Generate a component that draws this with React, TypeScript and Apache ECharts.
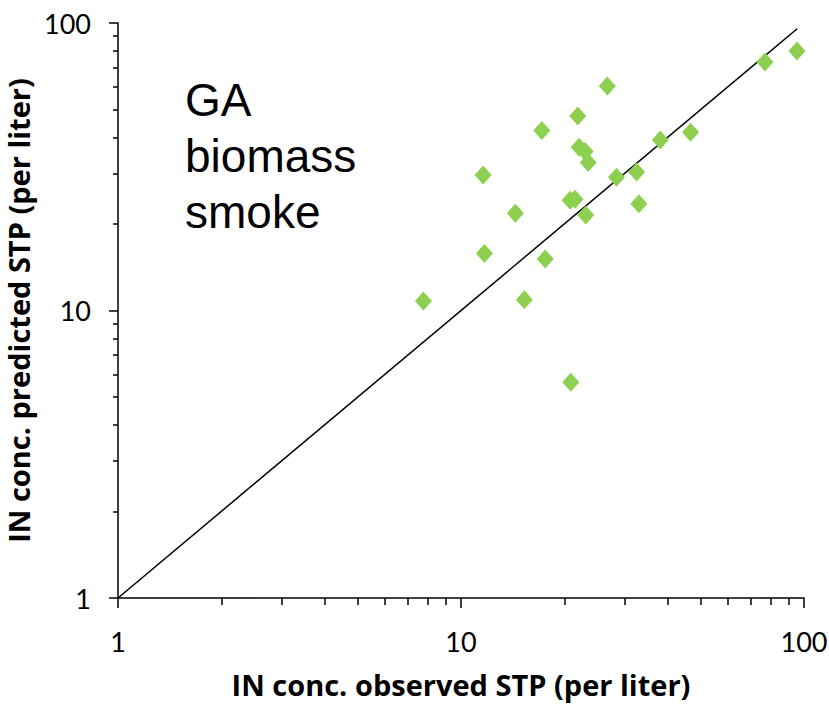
import React, { useEffect, useRef } from "react";
import * as echarts from "echarts";

const observed = [26.7, 21.9, 17.2, 22.1, 23.0, 23.5, 11.6, 28.4, 32.5, 38.1, 46.7, 20.8, 21.5, 33.0, 23.1, 14.4, 11.7, 17.6, 7.77, 15.3, 20.9, 76.9, 95.4];
const predicted = [60.4, 47.5, 42.3, 37.0, 35.7, 32.7, 29.6, 29.1, 30.3, 39.2, 41.7, 24.2, 24.4, 23.5, 21.5, 21.8, 15.8, 15.1, 10.8, 10.9, 5.63, 73.2, 79.9];
const oneToOne = [1, 95.5];
const majorTicks = [1, 10, 100];
const minorTicks = [2, 3, 4, 5, 6, 7, 8, 9, 20, 30, 40, 50, 60, 70, 80, 90];
const noteLines = ["GA", "biomass", "smoke"];

export default function App() {
  const ref = useRef<HTMLDivElement>(null);
  useEffect(() => {
    if (!ref.current) return;
    const chart = echarts.init(ref.current, null, { renderer: "svg" });
    const font = "Lato, 'Open Sans', sans-serif";
    const nameFont = "'Open Sans', Lato, sans-serif";
    const axisBase = (pos: string) => ({
      type: "log" as const,
      logBase: 10,
      min: 1,
      max: 100,
      position: pos,
      axisLine: { show: true, onZero: false, lineStyle: { color: "#000", width: 1.5 } },
      splitLine: { show: false },
      minorSplitLine: { show: false },
    });
    const points = observed.map((x, i) => [x, predicted[i]]);
    chart.setOption({
      animation: false,
      backgroundColor: "#fff",
      grid: { left: 118, right: 25, top: 23, bottom: 107, containLabel: false, outerBoundsMode: "none" },
      xAxis: [
        {
          ...axisBase("bottom"),
          name: "IN conc. observed STP (per liter)",
          nameLocation: "middle",
          nameGap: 72,
          nameTextStyle: { fontFamily: nameFont, fontWeight: "bold", fontSize: 29, color: "#000" },
          axisTick: { show: true, inside: false, length: 10, customValues: majorTicks, lineStyle: { color: "#000", width: 1.5 } },
          axisLabel: { show: true, margin: 30, fontFamily: font, fontSize: 27, color: "#000", customValues: majorTicks },
        },
        {
          ...axisBase("bottom"),
          axisLine: { show: false },
          axisTick: { show: true, inside: false, length: 7, customValues: minorTicks, lineStyle: { color: "#000", width: 1.5 } },
          axisLabel: { show: false },
        },
      ],
      yAxis: [
        {
          ...axisBase("left"),
          name: "IN conc. predicted STP (per liter)",
          nameLocation: "middle",
          nameGap: 68,
          nameRotate: 90,
          nameTextStyle: { fontFamily: nameFont, fontWeight: "bold", fontSize: 29, lineHeight: 30, color: "#000" },
          axisTick: { show: true, inside: false, length: 9, customValues: majorTicks, lineStyle: { color: "#000", width: 1.5 } },
          axisLabel: { show: true, margin: 27, fontFamily: font, fontSize: 27, color: "#000", customValues: majorTicks },
        },
        {
          ...axisBase("left"),
          axisLine: { show: false },
          axisTick: { show: true, inside: false, length: 5, customValues: minorTicks, lineStyle: { color: "#000", width: 1.5 } },
          axisLabel: { show: false },
        },
      ],
      graphic: [
        {
          type: "text",
          left: 185,
          top: 72,
          style: {
            text: noteLines.join("\n"),
            fontFamily: "'Liberation Sans', Arial, sans-serif",
            fontSize: 46,
            lineHeight: 56,
            fill: "#000",
          },
        },
      ],
      series: [
        {
          type: "line",
          data: oneToOne.map((v) => [v, v]),
          showSymbol: false,
          symbol: "none",
          lineStyle: { color: "#000", width: 1.5 },
          silent: true,
          z: 1,
        },
        {
          type: "scatter",
          data: points,
          symbol: "diamond",
          symbolSize: [17, 19],
          itemStyle: { color: "#8dd04f", opacity: 1 },
          z: 2,
        },
      ],
    });
    return () => chart.dispose();
  }, []);
  return <div ref={ref} style={{ width: 829, height: 705, position: "absolute", left: 0, top: 0 }} />;
}
